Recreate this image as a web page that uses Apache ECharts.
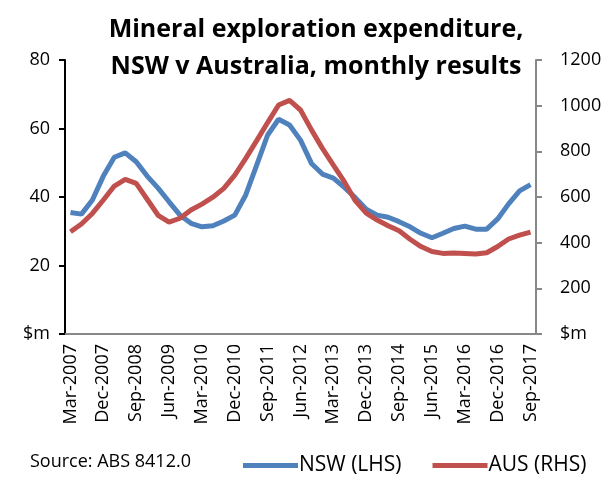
<!DOCTYPE html>
<html><head><meta charset="utf-8">
<script src="https://cdn.jsdelivr.net/npm/echarts@6/dist/echarts.min.js"></script>
<style>html,body{margin:0;padding:0;background:#fff}#c{width:609px;height:490px}</style>
</head><body><div id="c"></div>
<script>
const quarters = [];
const mon = ['Mar','Jun','Sep','Dec'];
for (let y = 2007; y <= 2017; y++) for (let q = 0; q < 4; q++) { if (y === 2017 && q > 2) break; quarters.push(mon[q] + '-' + y); }
const categories = quarters;
const nswValues = [35.5,35.0,39.1,46.1,51.6,52.9,50.3,46.1,42.6,38.6,34.7,32.3,31.3,31.6,33.0,34.7,40.6,49.3,58.1,62.7,61.0,56.6,49.8,46.7,45.5,42.8,39.8,36.4,34.7,34.1,32.8,31.3,29.4,28.1,29.4,30.8,31.5,30.6,30.6,33.6,38.0,41.8,43.6];
const ausValues = [448,482,528,587,648,677,660,590,520,490,507,543,569,599,638,696,769,847,926,1003,1023,981,894,813,740,667,584,529,499,474,452,415,383,361,353,355,353,350,356,383,416,433,446];
const leftTicks = ['$m','20','40','60','80'];
const rightTicks = ['$m','200','400','600','800','1000','1200'];
const FONT = 'Open Sans';
const chart = echarts.init(document.getElementById('c'), null, {renderer:'canvas'});
chart.setOption({
  animation:false,
  textStyle:{fontFamily:FONT},
  title:{text:'Mineral exploration expenditure,\nNSW v Australia, monthly results',left:311,textAlign:'center',top:6,
    textStyle:{fontFamily:FONT,fontWeight:'bold',fontSize:25,lineHeight:37,color:'#000'}},
  grid:{left:65,right:73,top:60,bottom:156},
  legend:{left:243,top:455,padding:0,itemWidth:55,itemHeight:5,itemGap:31,icon:'rect',
    textStyle:{fontFamily:FONT,fontSize:21,color:'#000',padding:[0,0,0,-4]},
    data:['NSW (LHS)','AUS (RHS)']},
  graphic:[{type:'text',left:30,top:453,style:{text:'Source: ABS 8412.0',font:'18px "Open Sans"',fill:'#000'}}],
  xAxis:{type:'category',data:categories,boundaryGap:true,
    axisLine:{lineStyle:{color:'#888',width:2}},
    axisTick:{interval:0,length:5,lineStyle:{color:'#888',width:1}},
    axisLabel:{interval:2,rotate:90,fontSize:18,color:'#000',margin:10,fontFamily:FONT}},
  yAxis:[
    {type:'value',min:0,max:80,interval:20,position:'left',splitLine:{show:false},
     axisLine:{show:true,lineStyle:{color:'#000',width:2}},
     axisTick:{show:true,length:6,lineStyle:{color:'#000',width:2}},
     axisLabel:{fontSize:18,color:'#000',margin:15,fontFamily:FONT,formatter:(v)=>leftTicks[v/20]}},
    {type:'value',min:0,max:1200,interval:200,position:'right',splitLine:{show:false},
     axisLine:{show:true,lineStyle:{color:'#888',width:2}},
     axisTick:{show:true,length:6,lineStyle:{color:'#888',width:2}},
     axisLabel:{fontSize:18,color:'#000',margin:24,fontFamily:FONT,formatter:(v)=>rightTicks[v/200]}}
  ],
  series:[
    {name:'NSW (LHS)',type:'line',yAxisIndex:0,data:nswValues,showSymbol:false,symbol:'none',
     lineStyle:{color:'#4F81BD',width:5},itemStyle:{color:'#4F81BD'}},
    {name:'AUS (RHS)',type:'line',yAxisIndex:1,data:ausValues,showSymbol:false,symbol:'none',
     lineStyle:{color:'#C0504D',width:5},itemStyle:{color:'#C0504D'}}
  ]
});
</script></body></html>
